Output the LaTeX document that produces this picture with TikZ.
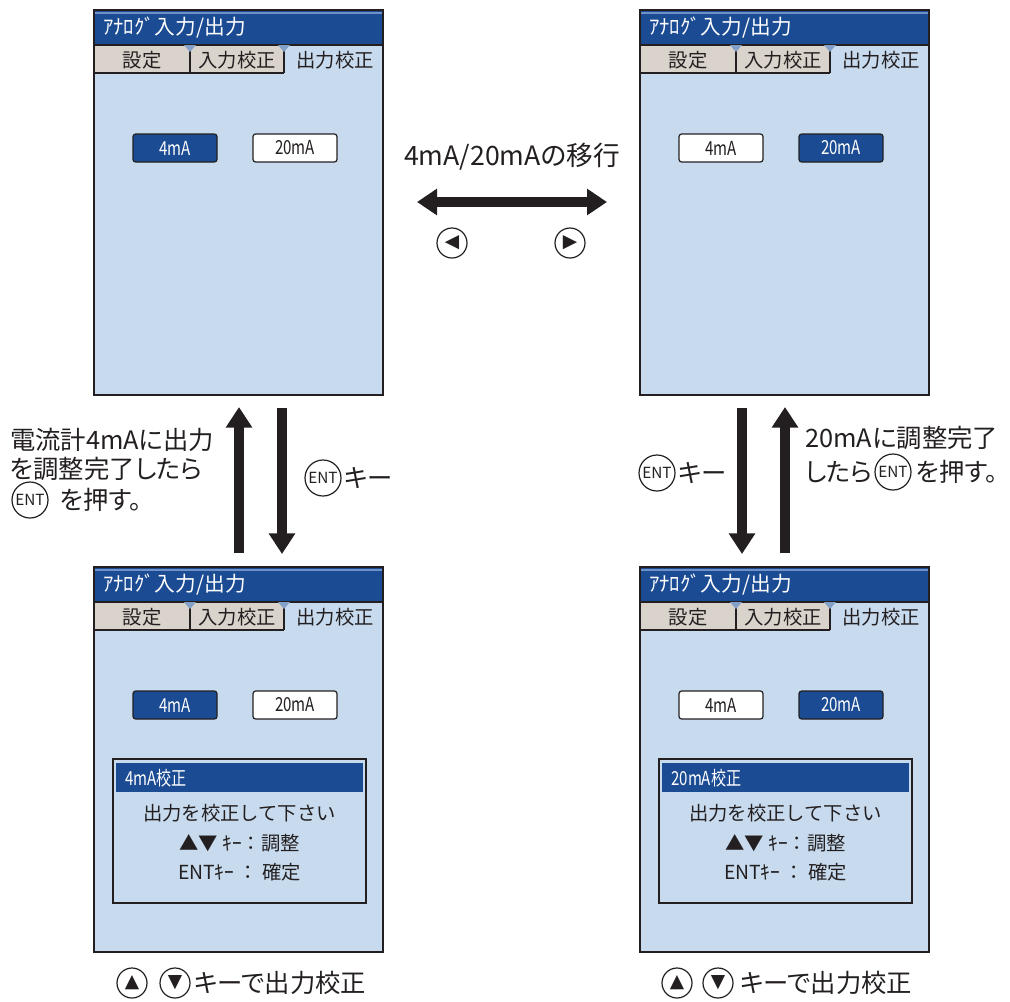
\documentclass[tikz,border=0pt]{standalone}
\usepackage{fontspec}
\setmainfont{Noto Sans CJK JP}
\newfontfamily\jp{Noto Sans CJK JP}
\newfontfamily\jpp[RawFeature=+palt]{Noto Sans CJK JP}
\newfontfamily\lcd[FakeStretch=0.78]{Noto Sans CJK JP}
\newfontfamily\symf{DejaVu Sans}
\usetikzlibrary{arrows.meta,calc}
\definecolor{scrbg}{RGB}{199,218,238}
\definecolor{hdr}{RGB}{27,75,147}
\definecolor{hdrhi}{RGB}{110,145,200}
\definecolor{tabbg}{RGB}{217,211,203}
\definecolor{ink}{RGB}{35,31,32}
\definecolor{tri}{RGB}{130,160,200}
\tikzset{
 hdrtxt/.style={text=white, font=\jp\fontsize{15.5}{16}\selectfont, anchor=west, inner sep=0},
 tabtxt/.style={text=ink, font=\jp\fontsize{14.5}{15}\selectfont, inner sep=0},
 btn/.style={draw=ink, line width=0.9pt, rounded corners=2pt, minimum width=63pt, minimum height=21pt, inner sep=0, font=\lcd\fontsize{14.5}{15}\selectfont},
 selbtn/.style={btn, fill=hdr, text=white},
 offbtn/.style={btn, fill=white, text=ink},
 dlgtxt/.style={text=ink, font=\jp\fontsize{14.5}{15}\selectfont, inner sep=0},
 dlgtitle/.style={text=white, font=\lcd\fontsize{14.5}{15}\selectfont, inner sep=0, anchor=west},
 bigarrow/.style={ink, line width=7.5pt, -{Triangle[length=15.5pt,width=19pt]}},
 bigarrowboth/.style={ink, line width=7.5pt, {Triangle[length=15pt,width=19pt]}-{Triangle[length=15pt,width=19pt]}},
 lbl/.style={text=ink, font=\jpp\fontsize{19}{24}\selectfont, inner sep=0, anchor=west},
 entc/.style={circle, draw=ink, line width=0.9pt, minimum size=27pt, inner sep=0, text=ink, font=\jp\fontsize{11.5}{12}\selectfont},
 keyc/.style={circle, draw=ink, line width=0.9pt, minimum size=22.5pt, inner sep=0, text=ink, font=\symf\fontsize{14}{14}\selectfont},
}
\newcommand\LCD[5]{%
\begin{scope}[shift={(#2,#3)}]
 \fill[scrbg] (0,0) rectangle (289,385);
 \fill[hdr] (0,0) rectangle (289,35);
 \draw[hdrhi, line width=0.8pt] (0,3) -- (289,3);
 \node[hdrtxt] (#1-hdr) at (9,18) {ｱﾅﾛｸﾞ入力/出力};
 \fill[tabbg] (0,35) rectangle (190,63);
 \draw[ink, line width=0.9pt] (0,35) -- (289,35) (0,63) -- (190,63) (96,35) -- (96,63) (190,35) -- (190,63);
 \fill[tri] (90,35) -- (102,35) -- (96,42) -- cycle;
 \fill[tri] (184,35) -- (196,35) -- (190,42) -- cycle;
 \node[tabtxt] (#1-t1) at (48,50) {設定};
 \node[tabtxt] (#1-t2) at (143,50) {入力校正};
 \node[tabtxt] (#1-t3) at (241,50) {出力校正};
 \node[#4] (#1-b4) at (81,138) {4mA};
 \node[#5] (#1-b20) at (201,138) {20mA};
 \draw[ink, line width=2.2pt] (0,0) rectangle (289,385);
\end{scope}}
\newcommand\DLG[4]{%
\begin{scope}[shift={(#2,#3)}]
 \draw[ink, line width=1pt, fill=scrbg] (19,192) rectangle (272,336);
 \fill[hdr] (22,196) rectangle (269,225);
 \node[dlgtitle] (#1-dt) at (31,211) {#4};
 \node[dlgtxt] (#1-d1) at (145.5,246) {出力を校正して下さい};
 \node[dlgtxt] (#1-d2) at (145.5,276) {▲▼ ｷｰ：調整};
 \node[dlgtxt] (#1-d3) at (145.5,305) {ENTｷｰ ： 確定};
\end{scope}}
\begin{document}
\begin{tikzpicture}[x=0.75pt,y=-0.75pt]
\useasboundingbox (0,0) rectangle (1010,1001);
\LCD{tl}{94}{10}{selbtn}{offbtn}
\LCD{tr}{640}{10}{offbtn}{selbtn}
\LCD{bl}{94}{567}{selbtn}{offbtn}
\DLG{bl}{94}{567}{4mA校正}
\LCD{br}{640}{567}{offbtn}{selbtn}
\DLG{br}{640}{567}{20mA校正}
% horizontal transition
\node[lbl, anchor=center, font=\jpp\fontsize{20}{24}\selectfont] (mv) at (512,157) {4mA/20mAの移行};
\coordinate (hL) at (417,202);
\coordinate (hR) at (607,202);
\draw[bigarrowboth] (hL) -- (hR);
\node[keyc] (kl) at (452,243) {◀};
\node[keyc] (kr) at (570,243) {▶};
% vertical arrows left
\coordinate (lu1) at (239,553);
\coordinate (lu2) at (239,407);
\coordinate (ld1) at (282,408);
\coordinate (ld2) at (282,554);
\draw[bigarrow] (lu1) -- (lu2);
\draw[bigarrow] (ld1) -- (ld2);
% vertical arrows right
\coordinate (rd1) at (742,408);
\coordinate (rd2) at (742,554);
\coordinate (ru1) at (785,553);
\coordinate (ru2) at (785,407);
\draw[bigarrow] (rd1) -- (rd2);
\draw[bigarrow] (ru1) -- (ru2);
% left labels
\node[lbl] (ll1) at (10,440) {電流計4mAに出力};
\node[lbl] (ll2) at (10,469) {を調整完了したら};
\node[entc] (lent) at (30,500) {ENT};
\node[lbl] (ll3) at (60,500) {を押す。};
\node[entc] (ment) at (323,478) {ENT};
\node[lbl] (mk) at (344,478) {キー};
% right labels
\node[entc] (rent) at (657,473) {ENT};
\node[lbl] (rk) at (678,473) {キー};
\node[lbl] (rl1) at (805,438) {20mAに調整完了};
\node[lbl] (rl2) at (805,472) {したら};
\node[entc] (rent2) at (893,472) {ENT};
\node[lbl] (rl3) at (916,472) {を押す。};
% bottom captions
\node[keyc] (bu1) at (132,983) {▲};
\node[keyc] (bd1) at (175,983) {▼};
\node[lbl] (bc1) at (194,983) {キーで出力校正};
\node[keyc] (bu2) at (677,983) {▲};
\node[keyc] (bd2) at (718,983) {▼};
\node[lbl] (bc2) at (740,983) {キーで出力校正};
\end{tikzpicture}
\end{document}
